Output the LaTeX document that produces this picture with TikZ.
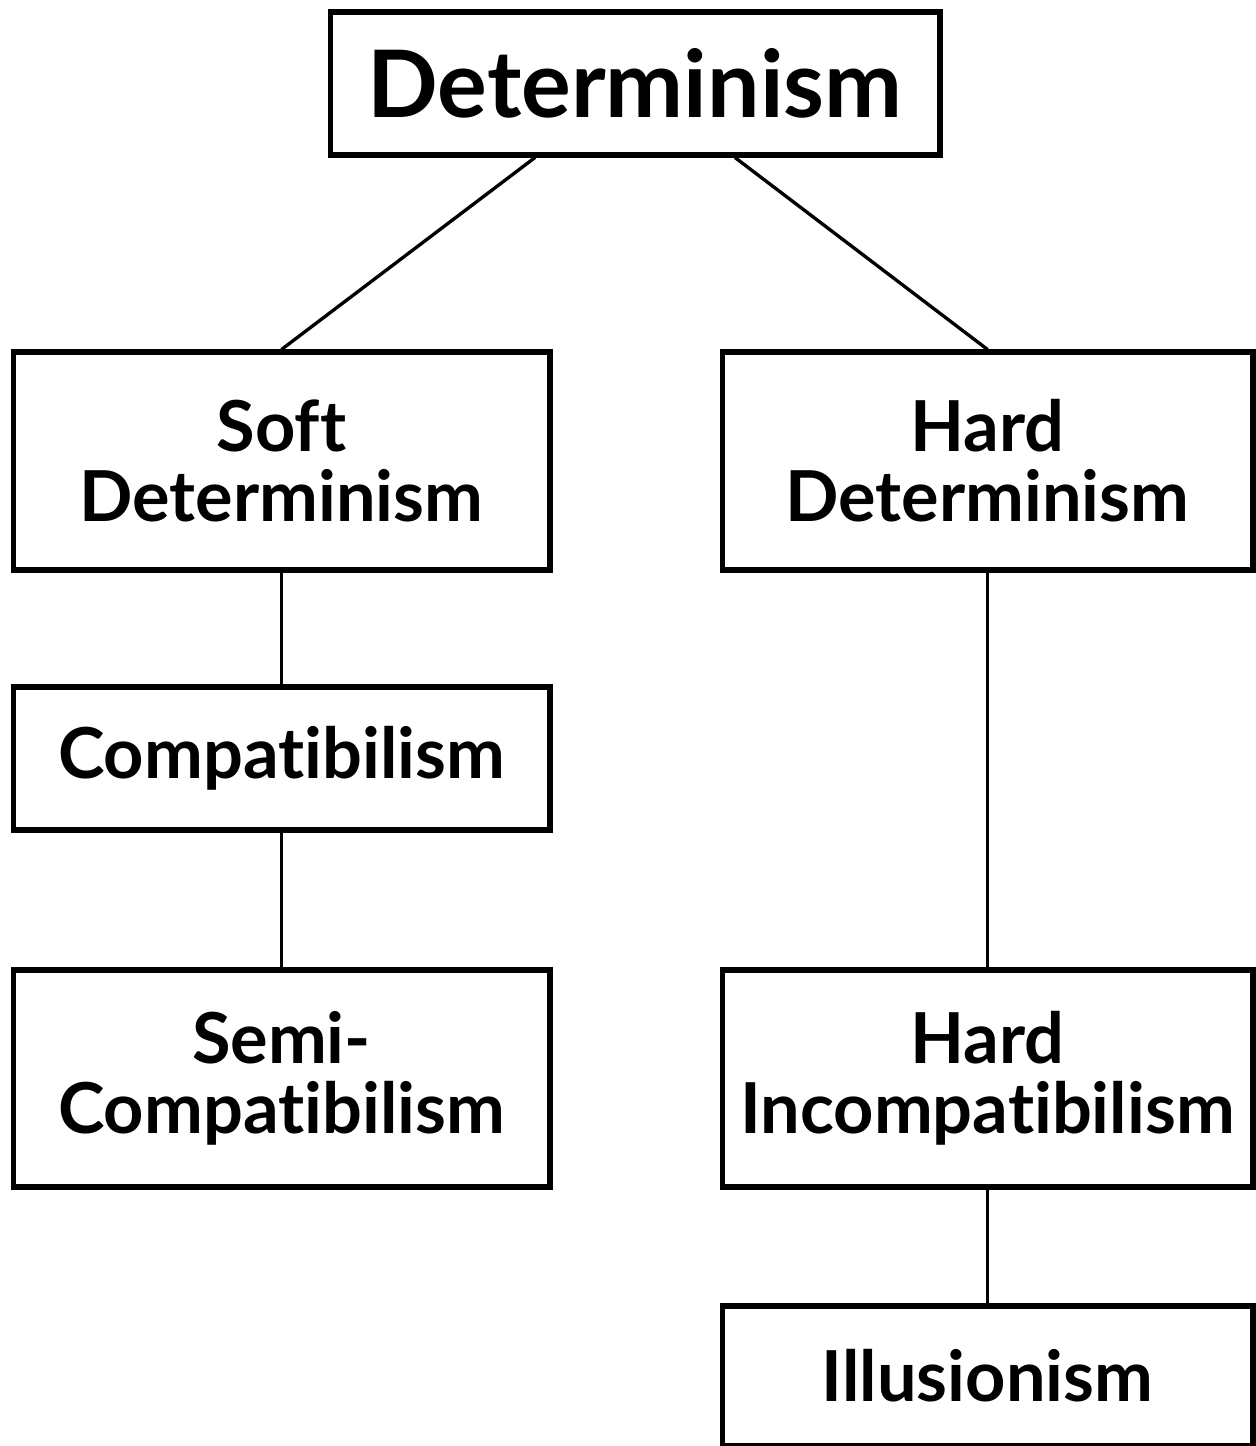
\documentclass[tikz,border=0pt]{standalone}
\usepackage{fontspec}
\setmainfont{Lato}[Ligatures=NoCommon]
\usetikzlibrary{calc}
\tikzset{box/.style={draw, line width=2.9pt, align=center, inner sep=0pt,
    font=\fontsize{40}{40}\selectfont\bfseries}}
\tikzset{tie/.style={line width=1.9pt}}
\begin{document}
\begin{tikzpicture}[x=0.02cm,y=-0.02cm]
    \useasboundingbox (0,0) rectangle (1255,1446);
    \node[box, minimum width=12.2cm, minimum height=2.86cm,
      font=\fontsize{53}{53}\selectfont\bfseries] (det) at (635,83.5) {Determinism};
    \node[box, minimum width=10.74cm, minimum height=4.36cm] (soft) at (281.5,461) {Soft\\Determinism};
    \node[box, minimum width=10.62cm, minimum height=4.36cm] (hard) at (987.5,461) {Hard\\Determinism};
    \node[box, minimum width=10.74cm, minimum height=2.86cm] (compat) at (281.5,758.5) {Compatibilism};
    \node[box, minimum width=10.74cm, minimum height=4.34cm] (semi) at (281.5,1078.5) {Semi-\\Compatibilism};
    \node[box, minimum width=10.62cm, minimum height=4.34cm] (hardinc) at (987.5,1078.5) {Hard\\Incompatibilism};
    \node[box, minimum width=10.62cm, minimum height=2.8cm] (illus) at (987.5,1376) {Illusionism};
    \draw[tie] ([xshift=-2cm]det.south) -- (soft.north);
    \draw[tie] ([xshift=2cm]det.south) -- (hard.north);
    \draw[tie] (soft.south) -- (compat.north);
    \draw[tie] (compat.south) -- (semi.north);
    \draw[tie] (hard.south) -- (hardinc.north);
    \draw[tie] (hardinc.south) -- (illus.north);
\end{tikzpicture}
\end{document}
